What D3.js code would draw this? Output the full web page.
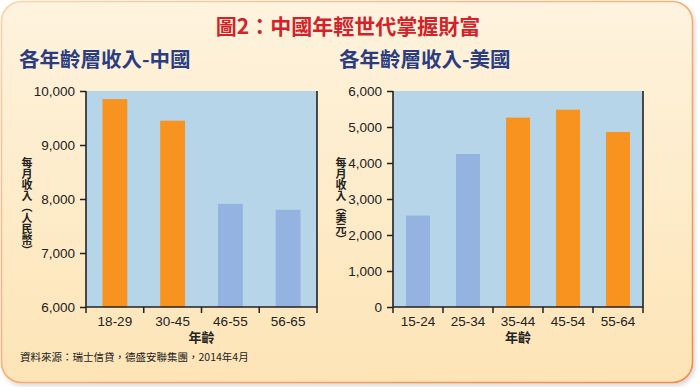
<!DOCTYPE html>
<html>
<head>
<meta charset="utf-8">
<script src="https://cdn.jsdelivr.net/npm/d3@7"></script>
<style>
  body { margin: 0; background: #ffffff; }
  svg text { font-family: "Noto Sans CJK TC", "Noto Sans", sans-serif; }
  .tick text { font-family: "Liberation Sans", Arial, sans-serif; font-size: 13.5px; fill: #222; }
</style>
</head>
<body>
<svg id="chart" width="700" height="387"></svg>
<script>
// data
const cnAges = ["18-29", "30-45", "46-55", "56-65"];
const cnIncome = [9850, 9450, 7910, 7800];
const cnHigh = [true, true, false, false];

const usAges = ["15-24", "25-34", "35-44", "45-54", "55-64"];
const usIncome = [2540, 4250, 5260, 5480, 4860];
const usHigh = [false, false, true, true, true];

const cnTicks = [6000, 7000, 8000, 9000, 10000];
const usTicks = [0, 1000, 2000, 3000, 4000, 5000, 6000];

const svg = d3.select("#chart");

// panel background
const defs = svg.append("defs");
const grad = defs.append("linearGradient").attr("id", "bg").attr("x1", 0).attr("y1", 0).attr("x2", 0).attr("y2", 1);
grad.append("stop").attr("offset", "0%").attr("stop-color", "#fef3de");
grad.append("stop").attr("offset", "100%").attr("stop-color", "#fde4b6");
const bgrad = defs.append("linearGradient").attr("id", "bd").attr("x1", 0).attr("y1", 0).attr("x2", 1).attr("y2", 1);
bgrad.append("stop").attr("offset", "0%").attr("stop-color", "#fbd2a8");
bgrad.append("stop").attr("offset", "100%").attr("stop-color", "#f48a45");
const sh = defs.append("filter").attr("id", "sh").attr("x", "-5%").attr("y", "-5%").attr("width", "110%").attr("height", "115%");
sh.append("feDropShadow").attr("dx", 2).attr("dy", 3).attr("stdDeviation", 2).attr("flood-color", "#999").attr("flood-opacity", 0.35);

svg.append("rect")
  .attr("x", 1.5).attr("y", 1.5).attr("width", 691).attr("height", 381)
  .attr("rx", 20)
  .attr("fill", "url(#bg)")
  .attr("stroke", "url(#bd)")
  .attr("stroke-width", 1.6)
  .attr("filter", "url(#sh)");

// titles
svg.append("text")
  .attr("x", 348).attr("y", 34)
  .attr("text-anchor", "middle")
  .attr("font-size", 21).attr("font-weight", "bold")
  .attr("fill", "#d3222a")
  .text("圖2：中國年輕世代掌握財富");

svg.append("text").attr("x", 19).attr("y", 67)
  .attr("font-size", 20.5).attr("font-weight", "bold").attr("fill", "#2b3d80")
  .text("各年齡層收入-中國");
svg.append("text").attr("x", 339).attr("y", 67)
  .attr("font-size", 20.5).attr("font-weight", "bold").attr("fill", "#2b3d80")
  .text("各年齡層收入-美國");

svg.append("text").attr("x", 20).attr("y", 361)
  .attr("font-size", 10.5).attr("fill", "#222")
  .text("資料來源：瑞士信貸，德盛安聯集團，2014年4月");

function drawPanel(opts) {
  const { x0, x1, cats, vals, high, ticks, domain, yTitle, yTitleX, pad } = opts;
  const top = 91, bottom = 307;

  const x = d3.scaleBand().domain(cats).range([x0, x1]).paddingInner(pad).paddingOuter(pad / 2);
  const y = d3.scaleLinear().domain(domain).range([bottom, top]);
  const step = (x1 - x0) / cats.length;

  const g = svg.append("g");

  g.append("rect")
    .attr("x", x0).attr("y", top).attr("width", x1 - x0).attr("height", bottom - top)
    .attr("fill", "#b6d5e8");

  g.selectAll(".bar")
    .data(cats)
    .enter().append("rect")
    .attr("class", "bar")
    .attr("x", d => x(d))
    .attr("width", x.bandwidth())
    .attr("y", (d, i) => y(vals[i]))
    .attr("height", (d, i) => bottom - y(vals[i]))
    .attr("fill", (d, i) => high[i] ? "#f7931e" : "#94b3e0");

  // y axis
  const ya = g.append("g")
    .attr("transform", `translate(${x0},0)`)
    .call(d3.axisLeft(y).tickValues(ticks).tickSize(6).tickPadding(5).tickFormat(d3.format(",")));
  ya.select(".domain").remove();
  ya.selectAll(".tick line").attr("stroke", "#222").attr("stroke-width", 1.5);

  // x axis labels
  const xa = g.append("g")
    .attr("transform", `translate(0,${bottom})`)
    .call(d3.axisBottom(x).tickSize(0).tickPadding(9));
  xa.select(".domain").remove();

  // tick marks on category boundaries
  g.selectAll(".xtick")
    .data(d3.range(cats.length + 1))
    .enter().append("line")
    .attr("x1", i => x0 + i * step).attr("x2", i => x0 + i * step)
    .attr("y1", bottom).attr("y2", bottom + 6)
    .attr("stroke", "#222").attr("stroke-width", 1.5);

  // frame lines
  g.append("path")
    .attr("d", `M${x0},${top}V${bottom}H${x1}V${top}`)
    .attr("fill", "none").attr("stroke", "#222").attr("stroke-width", 1.6);

  g.append("text")
    .attr("x", (x0 + x1) / 2).attr("y", 342)
    .attr("text-anchor", "middle")
    .attr("font-size", 13).attr("font-weight", "bold").attr("fill", "#222")
    .text("年齡");

  // vertical y title
  g.append("text")
    .attr("x", yTitleX).attr("y", 157)
    .attr("font-size", 11).attr("font-weight", "bold").attr("fill", "#222")
    .style("writing-mode", "vertical-rl")
    .text(yTitle);
}

drawPanel({ x0: 86, x1: 317, cats: cnAges, vals: cnIncome, high: cnHigh, ticks: cnTicks,
  domain: [6000, 10000], yTitle: "每月收入（人民幣）", yTitleX: 27, pad: 0.57 });
drawPanel({ x0: 393, x1: 643, cats: usAges, vals: usIncome, high: usHigh, ticks: usTicks,
  domain: [0, 6000], yTitle: "每月收入（美元）", yTitleX: 341, pad: 0.52 });
</script>
</body>
</html>
